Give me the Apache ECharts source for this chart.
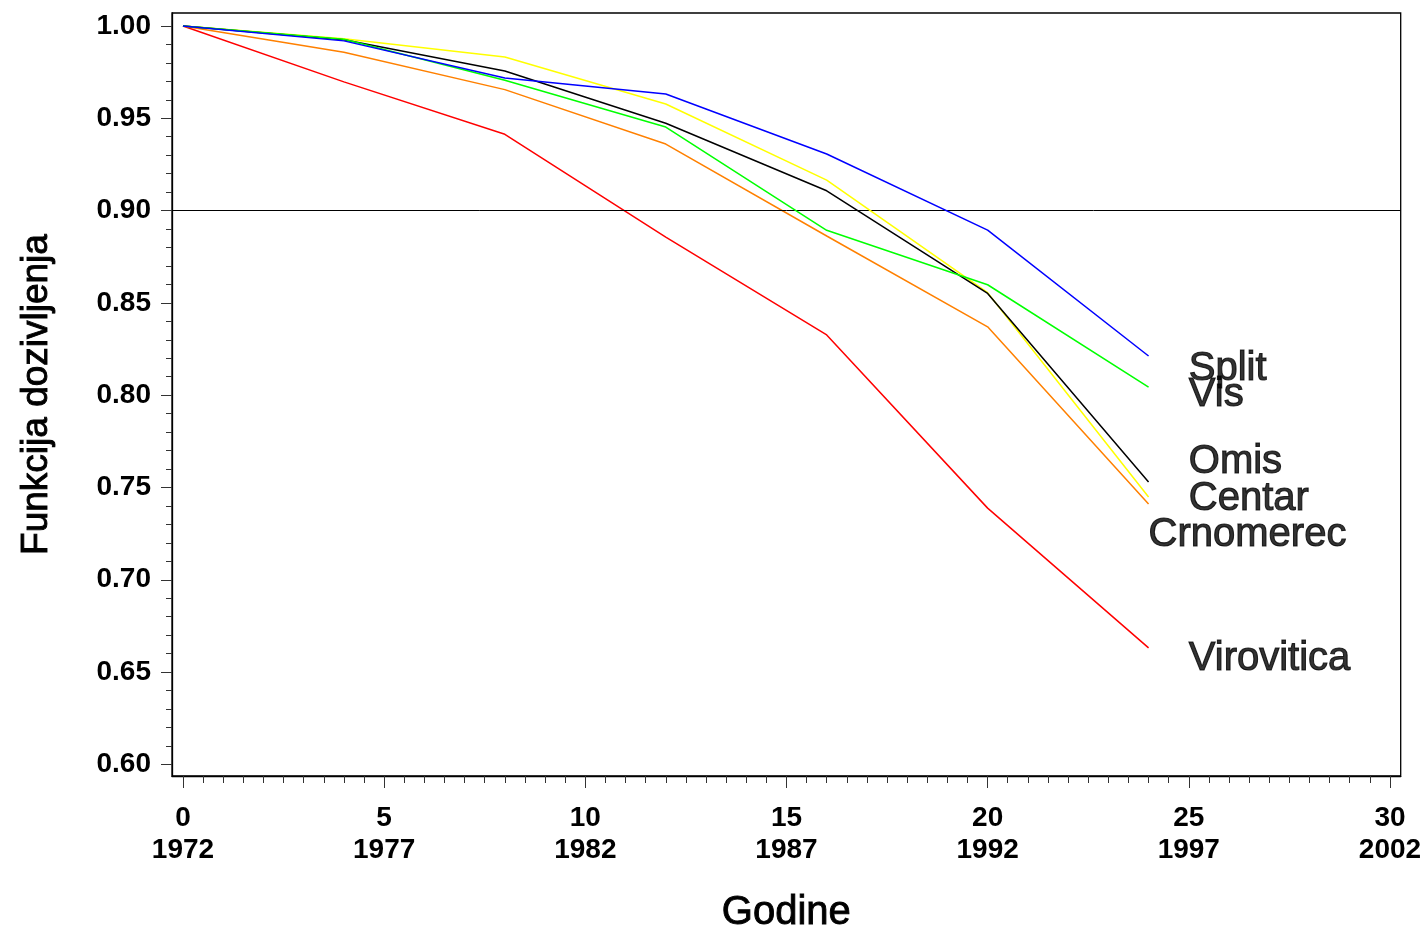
<!DOCTYPE html>
<html>
<head>
<meta charset="utf-8">
<script src="https://cdn.jsdelivr.net/npm/echarts@6/dist/echarts.min.js"></script>
<style>
html,body{margin:0;padding:0;background:#fff;}
#chart{width:1428px;height:930px;}
</style>
</head>
<body>
<div id="chart"></div>
<script>
// ---- data ----
const years = [0, 4, 8, 12, 16, 20, 24];
const baseYear = 1972;
const seriesNames = ['Split', 'Vis', 'Omis', 'Centar', 'Crnomerec', 'Virovitica'];
const split      = [1.0, 0.9919, 0.9718, 0.9631, 0.9306, 0.8894, 0.8212];
const vis        = [1.0, 0.9928, 0.9706, 0.9452, 0.8893, 0.8598, 0.8044];
const omis       = [1.0, 0.9925, 0.9756, 0.9473, 0.9107, 0.8551, 0.7529];
const centar     = [1.0, 0.9930, 0.9832, 0.9577, 0.9165, 0.8555, 0.7448];
const crnomerec  = [1.0, 0.9857, 0.9655, 0.9360, 0.8862, 0.8370, 0.7410];
const virovitica = [1.0, 0.9697, 0.9413, 0.8856, 0.8326, 0.7388, 0.6631];
const refLine = 0.90;
// label anchors (x in years, y in survival value)
const labelX = [25, 25, 25, 25, 24, 25];
const labelY = [0.8141, 0.7999, 0.7638, 0.7439, 0.7240, 0.6570];
const xTicks = [0, 5, 10, 15, 20, 25, 30];
const yTicks = [0.60, 0.65, 0.70, 0.75, 0.80, 0.85, 0.90, 0.95, 1.00];

const colors = ['#0000ff', '#00ff00', '#000000', '#ffff00', '#ff8000', '#ff0000'];
const allValues = [split, vis, omis, centar, crnomerec, virovitica];

const xMinor = [];
for (let i = 0; i <= 60; i++) xMinor.push(i * 0.5);
const yMinor = [];
for (let i = 60; i <= 100; i++) yMinor.push(i / 100);

const FONT = "'Liberation Sans', Arial, sans-serif";
const xMin = -0.273, xMax = 30.267, yMin = 0.5937, yMax = 1.007;

const chart = echarts.init(document.getElementById('chart'));

const series = allValues.map((vals, i) => ({
  name: seriesNames[i],
  type: 'line',
  xAxisIndex: 0, yAxisIndex: 0,
  data: years.map((x, j) => [x, vals[j]]),
  symbol: 'none',
  lineStyle: { color: colors[i], width: 1.5 },
  itemStyle: { color: colors[i] },
  z: 3 + (5 - i),
  animation: false
}));

series[0].markLine = {
  silent: true, symbol: 'none', animation: false,
  label: { show: false },
  lineStyle: { color: '#000', width: 1, type: 'solid' },
  data: [{ yAxis: refLine }]
};

series.push({
  type: 'scatter',
  xAxisIndex: 0, yAxisIndex: 0,
  symbolSize: 0,
  silent: true,
  animation: false,
  data: seriesNames.map((n, i) => ({ value: [labelX[i], labelY[i]], name: n })),
  label: {
    show: true, position: 'inside', align: 'left', verticalAlign: 'middle',
    formatter: p => p.name,
    fontFamily: FONT, fontSize: 40, color: '#000',
    textBorderColor: '#000', textBorderWidth: 1.1
  }
});

chart.setOption({
  backgroundColor: '#fff',
  animation: false,
  grid: {
    left: 172, right: 27.3, top: 13, bottom: 154,
    show: true, borderColor: '#000', borderWidth: 1.3,
    containLabel: false, outerBoundsMode: 'none'
  },
  xAxis: [
    {
      type: 'value', min: xMin, max: xMax,
      axisLine: { show: true, onZero: false, lineStyle: { color: '#000', width: 1.3 } },
      axisTick: { show: true, customValues: xTicks, length: 12, lineStyle: { color: '#333', width: 1 } },
      axisLabel: {
        customValues: xTicks, margin: 26, lineHeight: 32,
        fontFamily: FONT, fontSize: 28, fontWeight: 'bold', color: '#000',
        formatter: v => v + '\n' + (baseYear + v)
      },
      splitLine: { show: false },
      name: 'Godine', nameLocation: 'middle', nameGap: 117,
      nameTextStyle: { fontFamily: FONT, fontSize: 40, color: '#000', textBorderColor: '#000', textBorderWidth: 0.9 }
    },
    {
      type: 'value', min: xMin, max: xMax, position: 'bottom',
      axisLine: { show: false, onZero: false },
      axisTick: { show: true, customValues: xMinor, length: 7, lineStyle: { color: '#333', width: 1 } },
      axisLabel: { show: false },
      splitLine: { show: false }
    }
  ],
  yAxis: [
    {
      type: 'value', min: yMin, max: yMax,
      axisLine: { show: true, onZero: false, lineStyle: { color: '#000', width: 1.3 } },
      axisTick: { show: true, customValues: yTicks, length: 11, lineStyle: { color: '#333', width: 1 } },
      axisLabel: {
        customValues: yTicks, margin: 21,
        fontFamily: FONT, fontSize: 28, fontWeight: 'bold', color: '#000',
        formatter: v => v.toFixed(2)
      },
      splitLine: { show: false },
      name: 'Funkcija dozivljenja', nameLocation: 'middle', nameGap: 117, nameRotate: 90,
      nameTextStyle: { fontFamily: FONT, fontSize: 37, color: '#000', textBorderColor: '#000', textBorderWidth: 0.9 }
    },
    {
      type: 'value', min: yMin, max: yMax, position: 'left',
      axisLine: { show: false, onZero: false },
      axisTick: { show: true, customValues: yMinor, length: 6, lineStyle: { color: '#333', width: 1 } },
      axisLabel: { show: false },
      splitLine: { show: false }
    }
  ],
  series: series
});
</script>
</body>
</html>
